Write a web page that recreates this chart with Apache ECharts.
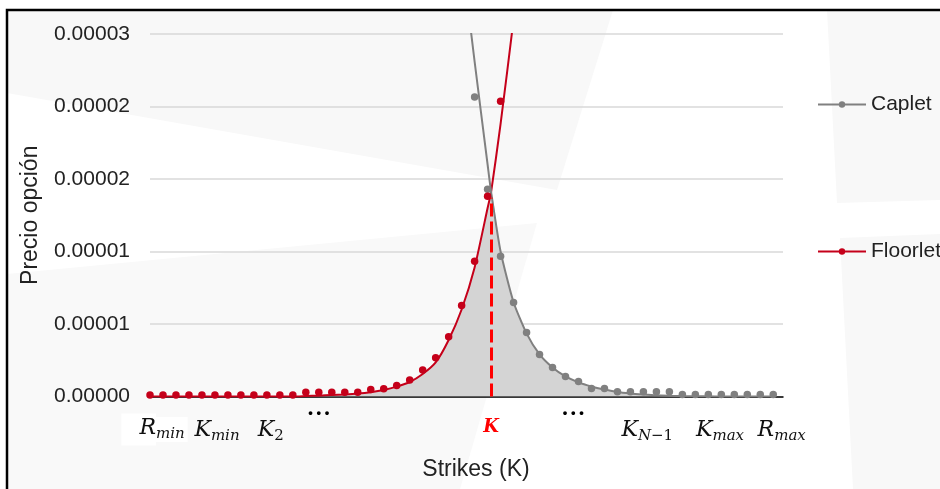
<!DOCTYPE html>
<html>
<head>
<meta charset="utf-8">
<script src="https://cdn.jsdelivr.net/npm/echarts@6/dist/echarts.min.js"></script>
<style>
  html, body { margin: 0; padding: 0; background: #fff; }
  #chart { width: 940px; height: 489px; }
</style>
</head>
<body>
<div id="chart"></div>
<script>
// strike positions (index along the strike grid)
const strikes = [0, 1, 2, 3, 4, 5, 6, 7, 8, 9, 10, 11, 12, 13, 14, 15, 16, 17, 18, 19, 20, 21, 22, 23, 24,
  25, 26, 27, 28, 29, 30, 31, 32, 33, 34, 35, 36, 37, 38, 39, 40, 41, 42, 43, 44, 45, 46, 47, 48]

// market prices (dots)
const floorletDots = [1e-7, 1e-7, 1e-7, 1e-7, 1e-7, 1e-7, 1e-7, 1e-7, 1e-7, 1e-7, 1e-7, 1e-7,
  3e-7, 3e-7, 3e-7, 3e-7, 3e-7, 4.8e-7, 5.3e-7, 7.6e-7, 1.13e-6, 1.82e-6, 2.67e-6, 4.12e-6,
  6.28e-6, 9.32e-6, 1.381e-5, 2.037e-5,
  null, null, null, null, null, null, null, null, null, null, null, null, null, null, null, null,
  null, null, null, null, null]
const capletDots = [null, null, null, null, null, null, null, null, null, null, null, null, null,
  null, null, null, null, null, null, null, null, null, null, null, null,
  2.065e-5, 1.43e-5, 9.67e-6, 6.49e-6, 4.42e-6, 2.9e-6, 2.0e-6, 1.38e-6, 1.04e-6, 5.5e-7, 5.5e-7,
  3.2e-7, 3.2e-7, 3.2e-7, 3.2e-7, 3.2e-7, 1.4e-7, 1.4e-7, 1.4e-7, 1.4e-7, 1.4e-7, 1.4e-7, 1.4e-7, 1.4e-7]

// fitted curves
const curveX = [0, 1, 2, 3, 4, 5, 6, 7, 8, 9, 10, 11, 12, 13, 14, 15, 16, 17, 18, 19, 20, 21, 22, 23, 24,
  25, 26, 26.27, 27, 28, 29, 30, 31, 32, 33, 34, 35, 36, 37, 38, 39, 40, 41, 42, 43, 44, 45, 46, 47, 48]
const floorletFit = [0, 0, 0, 0, 0, 0, 0, 0, 0, 0, 0, 0,
  3e-8, 6e-8, 1e-7, 1.4e-7, 2e-7, 3e-7, 4.5e-7, 6.8e-7, 1.0e-6, 1.55e-6, 2.35e-6, 3.9e-6, 6.0e-6,
  8.9e-6, 1.3e-5, 1.41e-5, 1.88e-5, 2.6e-5, 3.4e-5,
  null, null, null, null, null, null, null, null, null, null, null, null, null, null, null, null, null, null, null]
const capletFit = [null, null, null, null, null, null, null, null, null, null, null, null, null,
  null, null, null, null, null, null, null, null, null, null,
  3.8e-5, 3.05e-5, 2.31e-5, 1.6e-5, 1.41e-5, 1.0e-5, 6.5e-6, 4.35e-6, 2.9e-6, 2.0e-6, 1.38e-6,
  9.7e-7, 6.9e-7, 4.8e-7, 3.1e-7, 2.1e-7, 1.4e-7, 8e-8, 5e-8, 3e-8, 2e-8, 1e-8, 0, 0, 0, 0, 0]

const kStrike = 26.27
const kPrice = 1.37e-5

const yTickLabels = ['0.00000', '0.00001', '0.00001', '0.00002', '0.00002', '0.00003']
const xTickPos = [0.35, 5.16, 9.3, 13.0, 26.27, 32.6, 38.3, 43.9, 48.65]
const xTickLabels = ['{mw|R}{sw|min}', '{m|K}{s|min}', '{m|K}{su|2}', '{d|• • •}', '{k|K}',
  '{d|• • •}', '{m|K}{s|N}{su|−1}', '{m|K}{s|max}', '{m|R}{s|max}']

const RED = '#c5001a'
const GREY = '#808080'
const mathFont = 'DejaVu Serif'

const toPairs = (xs, ys) => xs.map((x, i) => [x, ys[i]]).filter(p => p[1] != null)
const fillData = curveX.map((x, i) => {
  const a = floorletFit[i] == null ? Infinity : floorletFit[i]
  const b = capletFit[i] == null ? Infinity : capletFit[i]
  const m = Math.min(a, b)
  return [x, m === Infinity ? 0 : m]
})

const chart = echarts.init(document.getElementById('chart'))
const option = {
  animation: false,
  backgroundColor: '#fff',
  textStyle: { fontFamily: 'Liberation Sans' },
  graphic: [
    { type: 'polygon', z: -10, silent: true, shape: { points: [[7, 10], [613, 10], [557, 190], [7, 93]] }, style: { fill: '#f8f8f8' } },
    { type: 'polygon', z: -10, silent: true, shape: { points: [[7, 274], [537, 223], [460, 489], [7, 489]] }, style: { fill: '#f9f9f9' } },
    { type: 'polygon', z: -10, silent: true, shape: { points: [[827, 10], [940, 10], [940, 200], [837, 203]] }, style: { fill: '#f8f8f8' } },
    { type: 'polygon', z: -10, silent: true, shape: { points: [[840, 238], [940, 234], [940, 489], [853, 489]] }, style: { fill: '#f8f8f8' } },
    { type: 'rect', z: 100, silent: true, shape: { x: 7, y: 10, width: 1000, height: 1000 }, style: { fill: 'none', stroke: '#000', lineWidth: 2.5 } }
  ],
  legend: {
    data: ['Caplet', 'Floorlet'],
    orient: 'vertical',
    left: 817,
    top: 94,
    padding: 0,
    itemWidth: 48,
    itemHeight: 8,
    itemGap: 126,
    selectedMode: false,
    lineStyle: { width: 2, opacity: 1 },
    textStyle: { fontSize: 21, color: '#222', fontFamily: 'Liberation Sans' }
  },
  grid: {
    left: 150,
    right: 157,
    top: 34,
    bottom: 92.5
  },
  xAxis: {
    type: 'value',
    min: 0,
    max: 48.75,
    name: 'Strikes (K)',
    nameLocation: 'middle',
    nameGap: 62,
    nameTextStyle: { fontSize: 23, color: '#222', padding: [0, 0, 0, 19] },
    axisLine: { lineStyle: { color: '#000', width: 1.5 } },
    axisTick: { show: false },
    splitLine: { show: false },
    axisLabel: {
      customValues: xTickPos,
      margin: 10,
      formatter: (v, i) => {
        const k = xTickPos.indexOf(v)
        return xTickLabels[k >= 0 ? k : i]
      },
      rich: {
        m: { fontFamily: mathFont, fontStyle: 'italic', fontSize: 22, lineHeight: 54, padding: [0, 0, 6, 0], color: '#111' },
        s: { fontFamily: mathFont, fontStyle: 'italic', fontSize: 15, lineHeight: 54, padding: [6, 0, 0, 0], color: '#111' },
        su: { fontFamily: mathFont, fontSize: 15, lineHeight: 54, padding: [6, 0, 0, 0], color: '#111' },
        mw: { fontFamily: mathFont, fontStyle: 'italic', fontSize: 22, lineHeight: 46, padding: [4, 0, 6, 18], color: '#111', backgroundColor: '#fff' },
        sw: { fontFamily: mathFont, fontStyle: 'italic', fontSize: 15, lineHeight: 46, padding: [10, 3, 0, 0], color: '#111', backgroundColor: '#fff' },
        k: { fontFamily: mathFont, fontStyle: 'italic', fontWeight: 'bold', fontSize: 18, lineHeight: 42, color: '#ff0000' },
        d: { fontFamily: 'Liberation Sans', fontWeight: 'bold', fontSize: 13, lineHeight: 14, color: '#000' }
      }
    }
  },
  yAxis: {
    type: 'value',
    min: 0,
    max: 0.000025,
    interval: 0.000005,
    name: 'Precio opción',
    nameLocation: 'middle',
    nameGap: 108,
    nameTextStyle: { fontSize: 23, color: '#222' },
    axisLine: { show: false },
    axisTick: { show: false },
    axisLabel: {
      fontSize: 21,
      color: '#222',
      margin: 20,
      formatter: v => yTickLabels[Math.round(v / 0.000005)]
    },
    splitLine: { lineStyle: { color: '#d9d9d9', width: 1.5 } }
  },
  series: [
    {
      name: 'fill',
      type: 'line',
      data: fillData,
      smooth: 0.2,
      symbol: 'none',
      lineStyle: { width: 0 },
      areaStyle: { color: '#d4d4d4', opacity: 1 },
      z: 1,
      markLine: {
        silent: true,
        symbol: 'none',
        label: { show: false },
        lineStyle: { color: '#ff0000', width: 3, type: [13, 5] },
        data: [[{ coord: [kStrike, 0] }, { coord: [kStrike, kPrice] }]]
      }
    },
    {
      name: 'FloorletFit',
      type: 'line',
      data: toPairs(curveX, floorletFit),
      smooth: 0.2,
      symbol: 'none',
      lineStyle: { color: RED, width: 2 },
      z: 3
    },
    {
      name: 'CapletFit',
      type: 'line',
      data: toPairs(curveX, capletFit),
      smooth: 0.2,
      symbol: 'none',
      lineStyle: { color: GREY, width: 2 },
      z: 3
    },
    {
      name: 'Caplet',
      type: 'line',
      data: toPairs(strikes, capletDots),
      symbol: 'circle',
      symbolSize: 7.5,
      itemStyle: { color: GREY },
      lineStyle: { color: GREY, width: 0 },
      z: 4
    },
    {
      name: 'Floorlet',
      type: 'line',
      data: toPairs(strikes, floorletDots),
      symbol: 'circle',
      symbolSize: 7.5,
      itemStyle: { color: RED },
      lineStyle: { color: RED, width: 0 },
      z: 4
    }
  ]
}
chart.setOption(option)
</script>
</body>
</html>
